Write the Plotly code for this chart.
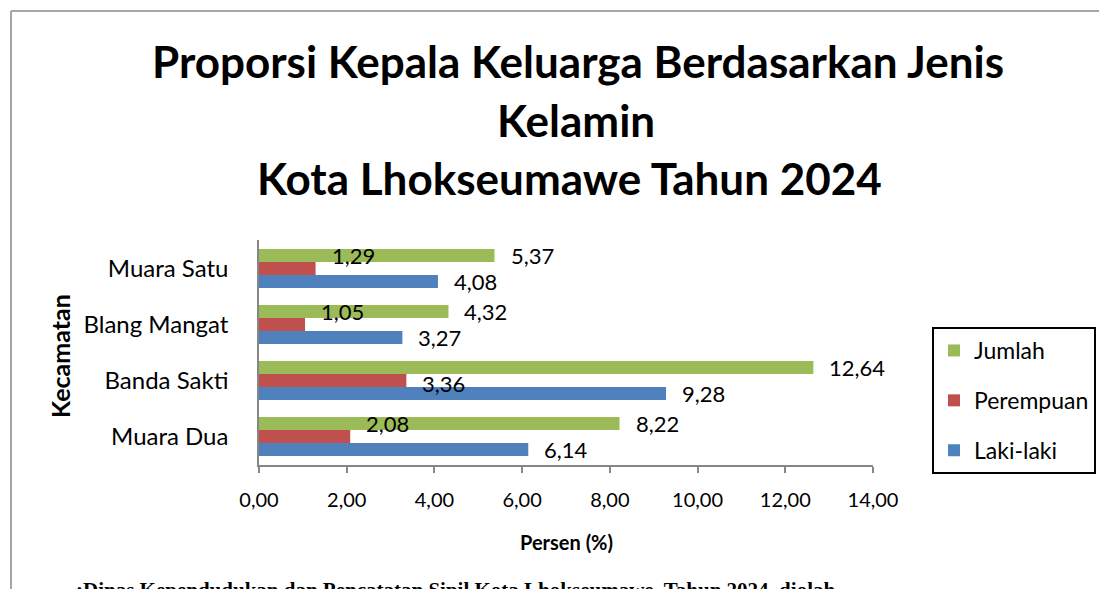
import plotly.graph_objects as go

# ---- data ----
categories = ["Muara Dua", "Banda Sakti", "Blang Mangat", "Muara Satu"]
laki_laki = [6.14, 9.28, 3.27, 4.08]
perempuan = [2.08, 3.36, 1.05, 1.29]
jumlah = [8.22, 12.64, 4.32, 5.37]
x_ticks = [0, 2, 4, 6, 8, 10, 12, 14]

title_lines = ["Proporsi Kepala Keluarga Berdasarkan Jenis", "Kelamin", "Kota Lhokseumawe Tahun 2024"]
x_title = "Persen (%)"
y_title = "Kecamatan"
source_text = ":Dinas Kependudukan dan Pencatatan Sipil Kota Lhokseumawe, Tahun 2024, diolah"

# ---- layout constants (page body adds an 8px offset) ----
OFF = 8
W, H = 1107 - OFF, 589 - OFF
PLOT_L, PLOT_R, PLOT_T, PLOT_B = 259, 873, 240, 465   # reference pixels
ML, MR, MT, MB = PLOT_L - OFF, W - (PLOT_R - OFF), PLOT_T - OFF, H - (PLOT_B - OFF)
PW, PH = W - ML - MR, H - MT - MB
FONT = "Lato, 'Open Sans', sans-serif"


def px_x(p):
    return (p - OFF - ML) / PW


def px_y(p):
    return 1 - (p - OFF - MT) / PH


def fmt(v):
    return f"{v:.2f}".replace(".", ",")


series = [
    ("Laki-laki", laki_laki, "#4F81BD", 3),
    ("Perempuan", perempuan, "#C0504D", 2),
    ("Jumlah", jumlah, "#9BBB59", 1),
]

fig = go.Figure()
for name, vals, col, rank in series:
    fig.add_trace(go.Bar(
        y=categories, x=vals, name=name, orientation="h",
        marker=dict(color=col, line=dict(width=0)),
        legendgroup=name, legendrank=rank,
    ))

# data labels
label_yshift = {"Laki-laki": -13, "Perempuan": 13, "Jumlah": 13}
special_shift = {("Perempuan", "Banda Sakti"): -3}
annotations = []
for name, vals, col, rank in series:
    for cat, v in zip(categories, vals):
        ys = special_shift.get((name, cat), label_yshift[name])
        annotations.append(dict(
            x=v, y=cat, xref="x", yref="y", text=fmt(v), showarrow=False,
            xanchor="left", yanchor="middle", xshift=14, yshift=ys,
            font=dict(family=FONT, size=22, color="black"),
        ))

# title lines (reference pixel centres)
title_pos = [(578, 61), (576, 120), (569, 178)]
for line, (cx, cy) in zip(title_lines, title_pos):
    annotations.append(dict(
        x=px_x(cx), y=px_y(cy), xref="paper", yref="paper", text=f"<b>{line}</b>",
        showarrow=False, xanchor="center", yanchor="middle",
        font=dict(family=FONT, size=44, color="black"),
    ))

# axis titles
annotations.append(dict(
    x=px_x(566), y=px_y(542), xref="paper", yref="paper", text=f"<b>{x_title}</b>",
    showarrow=False, xanchor="center", yanchor="middle",
    font=dict(family=FONT, size=20, color="black"),
))
annotations.append(dict(
    x=px_x(60), y=px_y(356), xref="paper", yref="paper", text=f"<b>{y_title}</b>",
    showarrow=False, xanchor="center", yanchor="middle", textangle=-90,
    font=dict(family=FONT, size=25, color="black"),
))
# source
annotations.append(dict(
    x=px_x(74), y=px_y(576), xref="paper", yref="paper", text=f"<b>{source_text}</b>",
    showarrow=False, xanchor="left", yanchor="top",
    font=dict(family="'Liberation Serif', 'Times New Roman', serif", size=21, color="black"),
))

shapes = [
    dict(type="line", xref="paper", yref="paper", x0=px_x(11), x1=px_x(11), y0=px_y(11), y1=px_y(700),
         line=dict(color="#A6A6A6", width=2)),
    dict(type="line", xref="paper", yref="paper", x0=px_x(11), x1=px_x(1200), y0=px_y(11), y1=px_y(11),
         line=dict(color="#A6A6A6", width=2)),
]

fig.update_layout(
    width=W, height=H,
    margin=dict(l=ML, r=MR, t=MT, b=MB, autoexpand=False),
    paper_bgcolor="white", plot_bgcolor="white",
    barmode="group", bargap=0.3, bargroupgap=0,
    separators=",.",
    font=dict(family=FONT, color="black"),
    showlegend=True,
    legend=dict(
        x=px_x(932), y=px_y(327), xanchor="left", yanchor="top",
        traceorder="grouped", tracegroupgap=17,
        bordercolor="black", borderwidth=2, bgcolor="white",
        font=dict(family=FONT, size=23, color="black"),
    ),
    annotations=annotations,
    shapes=shapes,
    xaxis=dict(
        range=[0, 14], tickvals=x_ticks, tickformat=".2f",
        showgrid=False, zeroline=False,
        showline=True, linecolor="#868686", linewidth=1.5,
        ticks="outside", ticklen=6, tickcolor="#868686", tickwidth=1.5,
        tickfont=dict(family=FONT, size=20, color="black"),
        ticklabelstandoff=10,
    ),
    yaxis=dict(
        categoryorder="array", categoryarray=categories,
        showgrid=False, zeroline=False,
        showline=True, linecolor="#868686", linewidth=1.5,
        ticks="", tickfont=dict(family=FONT, size=24, color="black"),
        ticklabelstandoff=24,
    ),
)

fig.write_html("out.html")
